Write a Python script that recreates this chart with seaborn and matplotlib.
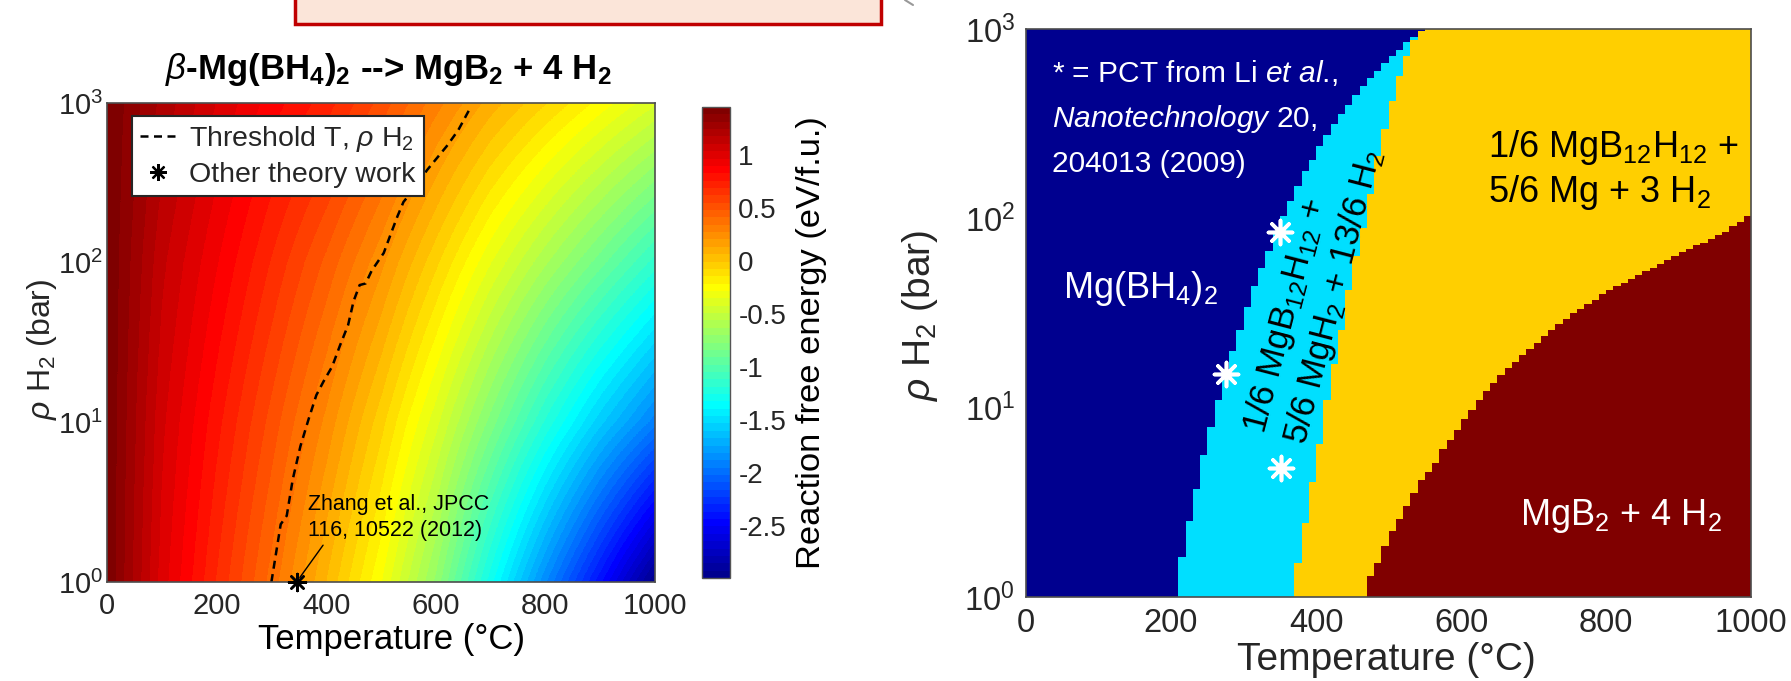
import numpy as np
import matplotlib
matplotlib.use("Agg")
import matplotlib.pyplot as plt
import seaborn as sns
from matplotlib import font_manager
from matplotlib.colors import LinearSegmentedColormap, Normalize
from matplotlib.image import AxesImage
from matplotlib.lines import Line2D
from matplotlib.patches import Rectangle
from matplotlib.ticker import FixedLocator, NullLocator, LogFormatterMathtext, FuncFormatter

# ------------------------------------------------------------------
# Left panel: reaction free energy (eV/f.u.) read on a T x log10(p) grid
# ------------------------------------------------------------------
grid_temps = [0, 100, 200, 300, 400, 500, 600, 700, 800, 900, 1000]      # deg C
grid_logp = [0, 1, 2, 3]                                                   # log10(p / bar)
dG_p1 = [1.45, 1.00, 0.68, 0.38, 0.06, -0.28, -0.72, -1.30, -1.87, -2.42, -2.99]
dG_p10 = [1.45, 1.05, 0.78, 0.52, 0.25, -0.05, -0.40, -0.80, -1.20, -1.58, -1.92]
dG_p100 = [1.45, 1.12, 0.90, 0.68, 0.46, 0.22, -0.06, -0.35, -0.62, -0.88, -1.15]
dG_p1000 = [1.45, 1.22, 1.03, 0.86, 0.72, 0.52, 0.30, 0.10, -0.07, -0.24, -0.41]
cbar_limits = [-2.99, 1.45]
cbar_ticks = [-2.5, -2, -1.5, -1, -0.5, 0, 0.5, 1]

threshold_T = [300, 317, 328, 339, 353, 368, 382, 395, 411, 425, 440, 450, 461, 472,
               483, 505, 519, 530, 541, 562, 584, 620, 641, 663]
threshold_p = [1.0, 2.3, 2.6, 4.4, 7.1, 10.5, 14.8, 18.0, 22.4, 30.2, 40.7, 57.5, 72.4, 74.1,
               89.1, 115, 155, 195, 240, 295, 380, 537, 676, 933]
theory_T = [346]
theory_p = [1.0]

x_ticks = [0, 200, 400, 600, 800, 1000]
y_ticks = [1, 10, 100, 1000]

# ------------------------------------------------------------------
# Right panel: phase boundaries
# ------------------------------------------------------------------
phase_colors = ["#00008F", "#00DFFF", "#FFCF00", "#800000"]
# Mg(BH4)2 | MgB12H12+MgH2 boundary: temperature column and log10 p where it starts
b1_T = [210, 220, 230, 240, 250, 260, 270, 280, 290, 300, 310, 320, 330, 340, 350, 360, 370,
        380, 390, 400, 410, 420, 430, 440, 450, 460, 470, 480, 490, 500, 510, 520, 530, 540, 550]
b1_logp = [0.00, 0.21, 0.40, 0.57, 0.75, 0.90, 1.04, 1.18, 1.30, 1.41, 1.53, 1.64, 1.74, 1.83,
           1.92, 2.01, 2.09, 2.17, 2.25, 2.31, 2.38, 2.44, 2.50, 2.55, 2.60, 2.65, 2.70, 2.74,
           2.78, 2.82, 2.86, 2.89, 2.93, 2.96, 2.99]
# MgB12H12+MgH2 | MgB12H12+Mg boundary
b2_T = [370, 380, 390, 400, 410, 420, 430, 440, 450, 460, 470, 480, 490, 500, 510, 520, 530, 540, 550]
b2_logp = [0.00, 0.18, 0.39, 0.61, 0.81, 1.04, 1.23, 1.41, 1.62, 1.80, 1.95, 2.13, 2.33, 2.47,
           2.62, 2.75, 2.86, 2.94, 2.99]
# MgB12H12+Mg | MgB2 boundary: top of the MgB2 region (log10 p) per temperature column
b3_T = [470, 480, 490, 500, 510, 520, 530, 540, 550, 560, 570, 580, 590, 600, 610, 620, 630, 640,
        650, 660, 670, 680, 690, 700, 710, 720, 730, 740, 750, 760, 770, 780, 790, 800, 810, 820,
        830, 840, 850, 860, 870, 880, 890, 900, 910, 920, 930, 940, 950, 960, 970, 980, 990, 1000]
b3_logp = [0.11, 0.18, 0.27, 0.35, 0.41, 0.48, 0.55, 0.62, 0.66, 0.71, 0.78, 0.83, 0.88, 0.94,
           0.99, 1.04, 1.09, 1.13, 1.17, 1.21, 1.24, 1.28, 1.31, 1.34, 1.38, 1.41, 1.44, 1.47,
           1.50, 1.52, 1.55, 1.57, 1.60, 1.62, 1.64, 1.66, 1.68, 1.70, 1.72, 1.74, 1.76, 1.78,
           1.80, 1.82, 1.84, 1.86, 1.87, 1.89, 1.91, 1.93, 1.96, 1.98, 2.01, 2.03]
pct_T = [350, 276, 352]
pct_p = [85, 15, 4.8]

# ------------------------------------------------------------------
sns.set_theme(style="white")
fonts = {f.name for f in font_manager.fontManager.ttflist}
NARROW = "Liberation Sans Narrow" in fonts
plt.rcParams.update({
    "font.family": ["Liberation Sans", "DejaVu Sans"],
    "mathtext.fontset": "custom",
    "mathtext.rm": "Liberation Sans",
    "mathtext.it": "Liberation Sans:italic",
    "mathtext.bf": "Liberation Sans:bold",
    "axes.unicode_minus": False,
})
GRAY = "#262626"

jet64 = LinearSegmentedColormap.from_list(
    "matlab_jet",
    [(0.0, (0, 0, 0.5625)), (0.111, (0, 0, 1)), (0.365, (0, 1, 1)),
     (0.619, (1, 1, 0)), (0.873, (1, 0, 0)), (1.0, (0.5, 0, 0))], N=64)

W, H = 1791, 681
fig = plt.figure(figsize=(W / 100, H / 100), dpi=100)


def rect(x0, y0, x1, y1):
    return [x0 / W, 1 - y1 / H, (x1 - x0) / W, (y1 - y0) / H]


ax1 = fig.add_axes(rect(107, 103, 655, 582))
cax = fig.add_axes(rect(702, 107, 730, 578))
ax2 = fig.add_axes(rect(1026, 29, 1751, 597))

# ---------------- left panel ----------------
ax1.set_yscale("log")
ax1.set_xlim(x_ticks[0], x_ticks[-1])
ax1.set_ylim(y_ticks[0], y_ticks[-1])
Z = np.array([dG_p1, dG_p10, dG_p100, dG_p1000])
norm = Normalize(*cbar_limits)
dT = grid_temps[1] - grid_temps[0]
lo, hi = np.log10(y_ticks[0]), np.log10(y_ticks[-1])
dL = grid_logp[1] - grid_logp[0]
extent = [grid_temps[0] - dT / 2, grid_temps[-1] + dT / 2,
          (grid_logp[0] - dL / 2 - lo) / (hi - lo), (grid_logp[-1] + dL / 2 - lo) / (hi - lo)]
im = AxesImage(ax1, cmap=jet64, norm=norm, interpolation="bilinear",
               interpolation_stage="data", origin="lower", extent=extent)
im.set_data(Z)
im.set_transform(ax1.get_xaxis_transform())
ax1.add_image(im)

dash = (0, (3.2, 2.2))
sns.lineplot(x=threshold_T, y=threshold_p, ax=ax1, color="black", linewidth=1.8,
             estimator=None, sort=False, legend=False)
ax1.lines[-1].set_linestyle(dash)
sns.scatterplot(x=theory_T, y=theory_p, ax=ax1, marker=(8, 2, 0), s=150, color="black",
                edgecolor="black", linewidth=1.8, legend=False, zorder=5, clip_on=False)

handles = [Line2D([], [], color="black", lw=1.8, linestyle=dash),
           Line2D([], [], color="black", marker=(8, 2, 0), ms=12, mew=1.6, ls="none")]
leg = ax1.legend(handles, [r"Threshold T, $\rho$ H$_2$", "Other theory work"],
                 loc="upper left", bbox_to_anchor=(0.045, 0.972), borderaxespad=0,
                 fontsize=20.5, frameon=True, fancybox=False, framealpha=1, edgecolor=GRAY,
                 handlelength=1.3, handletextpad=0.45, borderpad=0.28, labelspacing=0.28)
leg.get_frame().set_linewidth(1.5)

if NARROW:
    ann_kw = dict(family=["Liberation Sans Narrow", "Liberation Sans"], fontsize=19)
else:
    ann_kw = dict(fontsize=15.5)
ax1.annotate("Zhang et al., JPCC\n116, 10522 (2012)", xy=(theory_T[0], theory_p[0]),
             xytext=(367, 2.54), ha="left", va="center", color="black", linespacing=1.3,
             arrowprops=dict(arrowstyle="-", color="black", lw=1, relpos=(0.1, 0.0),
                             shrinkA=1, shrinkB=4), **ann_kw)

ax1.text(0.513, 1.069,
         r"$\beta$-Mg(BH$_\mathbf{4}$)$_\mathbf{2}$ --> MgB$_\mathbf{2}$ + 4 H$_\mathbf{2}$",
         transform=ax1.transAxes, ha="center", va="center", fontsize=25,
         fontweight="bold", color="black")

ax1.set_xticks(x_ticks)
ax1.yaxis.set_major_locator(FixedLocator(y_ticks))
ax1.yaxis.set_major_formatter(LogFormatterMathtext())
ax1.yaxis.set_minor_locator(NullLocator())
ax1.tick_params(axis="both", length=0, labelsize=21, colors=GRAY)
ax1.tick_params(axis="x", pad=7)
ax1.tick_params(axis="y", pad=3)
for s in ax1.spines.values():
    s.set_color("#4d4d4d")
    s.set_linewidth(1.2)
ax1.set_xlabel("Temperature (°C)", fontsize=25, va="center", color="black")
ax1.xaxis.set_label_coords(0.52, -0.121)
ax1.set_ylabel(r"$\rho$ H$_2$ (bar)", fontsize=23, va="center", color=GRAY)
ax1.yaxis.set_label_coords(-0.1186, 0.486)

cb = fig.colorbar(im, cax=cax, ticks=cbar_ticks)
cb.outline.set_edgecolor("#555555")
cb.outline.set_linewidth(1)
cax.yaxis.set_major_formatter(FuncFormatter(lambda v, _: f"{v:g}"))
cax.tick_params(direction="in", length=5, width=1, labelsize=20, pad=6, colors=GRAY)
cb.set_label("Reaction free energy (eV/f.u.)", fontsize=24.8, va="center", color="black")
cax.yaxis.set_label_coords(3.9, 0.5)

# ---------------- right panel ----------------
ax2.set_yscale("log")
ax2.set_xlim(x_ticks[0], x_ticks[-1])
ax2.set_ylim(y_ticks[0], y_ticks[-1])
ax2.set_facecolor(phase_colors[0])
top = y_ticks[-1]
ax2.fill_betweenx(np.append(10.0 ** np.array(b1_logp), top), np.append(b1_T, b1_T[-1]),
                  x_ticks[-1], step="post", color=phase_colors[1], lw=0)
ax2.fill_betweenx(np.append(10.0 ** np.array(b2_logp), top), np.append(b2_T, b2_T[-1]),
                  x_ticks[-1], step="post", color=phase_colors[2], lw=0)
ax2.fill_between(b3_T, y_ticks[0], 10.0 ** np.array(b3_logp), step="post",
                 color=phase_colors[3], lw=0)
sns.scatterplot(x=pct_T, y=pct_p, ax=ax2, marker=(8, 2, 0), s=300, color="white",
                edgecolor="white", linewidth=2.6, legend=False, zorder=5)

if NARROW:
    pct_kw = dict(family=["Liberation Sans Narrow", "Liberation Sans"], fontsize=26)
else:
    pct_kw = dict(fontsize=21.5)
ax2.text(36, 527, r"* = PCT from Li $\it{et\ al}$.,", color="white", ha="left",
         va="baseline", **pct_kw)
ax2.text(36, 305, r"$\it{Nanotechnology}$ 20,", color="white", ha="left",
         va="baseline", **pct_kw)
ax2.text(36, 176.6, "204013 (2009)", color="white", ha="left", va="baseline", **pct_kw)
ax2.text(51, 37.8, r"Mg(BH$_4$)$_2$", color="white", ha="left", va="baseline", fontsize=26)
ax2.text(397, 41, "1/6 MgB$_{12}$H$_{12}$ +\n5/6 MgH$_2$ + 13/6 H$_2$", color="black",
         ha="center", va="center", ma="left", rotation=75.5, rotation_mode="anchor",
         fontsize=25)
ax2.text(637, 211, r"1/6 MgB$_{12}$H$_{12}$ +", color="black", ha="left", va="baseline",
         fontsize=26)
ax2.text(637, 122, r"5/6 Mg + 3 H$_2$", color="black", ha="left", va="baseline", fontsize=26)
ax2.text(681, 2.40, r"MgB$_2$ + 4 H$_2$", color="white", ha="left", va="baseline", fontsize=26)

ax2.set_xticks(x_ticks)
ax2.yaxis.set_major_locator(FixedLocator(y_ticks))
ax2.yaxis.set_major_formatter(LogFormatterMathtext())
ax2.yaxis.set_minor_locator(NullLocator())
ax2.tick_params(axis="both", length=0, labelsize=23.5, colors=GRAY, pad=8)
for s in ax2.spines.values():
    s.set_color("#4d4d4d")
    s.set_linewidth(1.2)
ax2.set_xlabel("Temperature (°C)", fontsize=28, va="center", color=GRAY)
ax2.xaxis.set_label_coords(0.497, -0.111)
ax2.set_ylabel(r"$\rho$ H$_2$ (bar)", fontsize=28, va="center", color=GRAY)
ax2.yaxis.set_label_coords(-0.146, 0.496)

# ---------------- slide decorations (cropped box at top) ----------------
fig.patches.append(Rectangle((295 / W, 1 - 24 / H), 586 / W, 0.1, transform=fig.transFigure,
                             facecolor="#FBE5D9", edgecolor="#C00000", lw=2.5,
                             clip_on=False, zorder=0))
fig.lines.append(Line2D([905 / W, 913 / W], [1.0, 1 - 5 / H], transform=fig.transFigure,
                        color="#999999", lw=1.5))

fig.savefig("out.png", dpi=100)
